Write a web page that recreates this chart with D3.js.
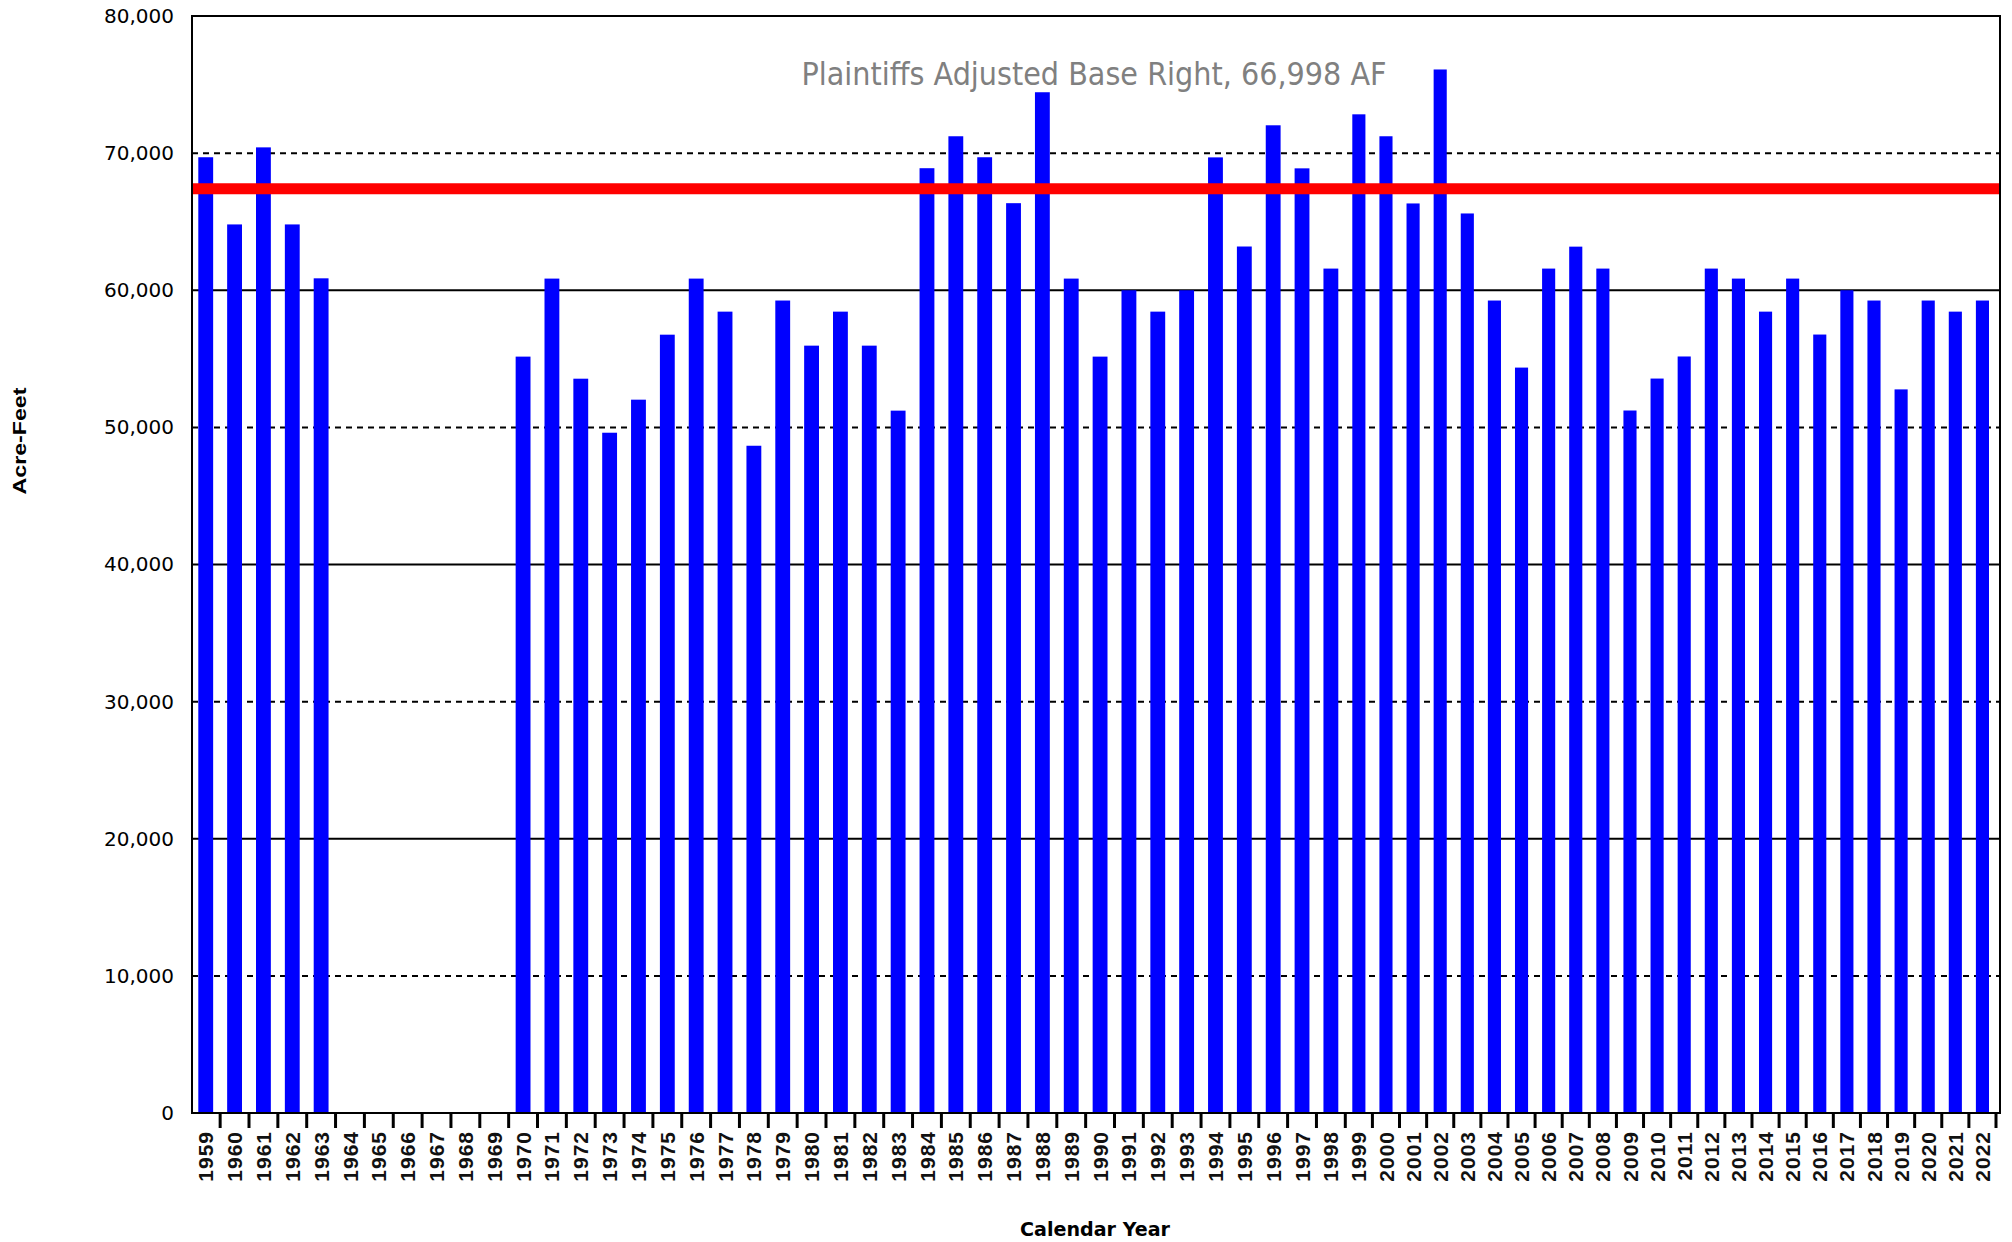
<!DOCTYPE html>
<html>
<head>
<meta charset="utf-8">
<script src="https://cdn.jsdelivr.net/npm/d3@7"></script>
<style>
  body { margin: 0; background: #fff; }
  svg { display: block; }
</style>
</head>
<body>
<svg></svg>
<script>
// annual diversions vs adjusted base right

var years = [1959, 1960, 1961, 1962, 1963, 1964, 1965, 1966, 1967, 1968, 1969,
             1970, 1971, 1972, 1973, 1974, 1975, 1976, 1977, 1978, 1979,
             1980, 1981, 1982, 1983, 1984, 1985, 1986, 1987, 1988, 1989,
             1990, 1991, 1992, 1993, 1994, 1995, 1996, 1997, 1998, 1999,
             2000, 2001, 2002, 2003, 2004, 2005, 2006, 2007, 2008, 2009,
             2010, 2011, 2012, 2013, 2014, 2015, 2016, 2017, 2018, 2019,
             2020, 2021, 2022];
var acreFeet = [69700, 64800, 70420, 64800, 60870, null, null, null, null, null, null,
                55160, 60850, 53550, 49610, 52020, 56760, 60850, 58440, 48660, 59250,
                55960, 58440, 55960, 51220, 68900, 71230, 69700, 66350, 74440, 60850,
                55160, 60000, 58440, 60000, 69690, 63190, 72030, 68890, 61580, 72830,
                71230, 66330, 76100, 65600, 59250, 54360, 61580, 63180, 61580, 51230,
                53560, 55170, 61580, 60850, 58440, 60850, 56770, 60000, 59250, 52770,
                59250, 58440, 59250];
var yTicks = [0, 10000, 20000, 30000, 40000, 50000, 60000, 70000, 80000];
var solidGrid = [20000, 40000, 60000];
var dashedGrid = [10000, 30000, 50000, 70000];
var baseRight = 67400;
var baseRightLabel = "Plaintiffs Adjusted Base Right, 66,998 AF";

var width = 2012;
var height = 1242;
var margin = {top: 16, right: 12, bottom: 129, left: 192};
var barGap = 14;

var data = years.map((y, i) => ({year: y, value: acreFeet[i]}));

// the year slots are a little narrower from 1999 on, as in the original
var xScale = d3.scaleLinear()
                 .domain([1959, 1999, 2023])
                 .range([191.3, 1345.3, 1996]);

var yScale = d3.scaleLinear()
                 .domain([0, 80000])
                 .range([height - margin.bottom, margin.top]);

var svg = d3.select('svg')
              .attr('width', width)
              .attr('height', height);

// grid
svg.selectAll('line.solid-grid')
    .data(solidGrid)
    .enter()
    .append('line')
      .attr('x1', margin.left)
      .attr('x2', width - margin.right)
      .attr('y1', d => yScale(d))
      .attr('y2', d => yScale(d))
      .attr('stroke', '#000')
      .attr('stroke-width', 2);

svg.selectAll('line.dashed-grid')
    .data(dashedGrid)
    .enter()
    .append('line')
      .attr('x1', margin.left)
      .attr('x2', width - margin.right)
      .attr('y1', d => yScale(d))
      .attr('y2', d => yScale(d))
      .attr('stroke', '#000')
      .attr('stroke-width', 2)
      .attr('stroke-dasharray', '6,5');

// bars
svg.selectAll('rect.bar')
    .data(data.filter(d => d.value !== null))
    .enter()
    .append('rect')
      .attr('class', 'bar')
      .attr('x', d => xScale(d.year) + barGap / 2)
      .attr('y', d => yScale(d.value))
      .attr('width', d => xScale(d.year + 1) - xScale(d.year) - barGap)
      .attr('height', d => yScale(0) - yScale(d.value))
      .attr('fill', '#0000ff');

// base right line
svg.append('line')
    .attr('x1', margin.left)
    .attr('x2', width - margin.right)
    .attr('y1', yScale(baseRight))
    .attr('y2', yScale(baseRight))
    .attr('stroke', '#ff0000')
    .attr('stroke-width', 11);

// frame
svg.append('rect')
    .attr('x', margin.left)
    .attr('y', margin.top)
    .attr('width', width - margin.right - margin.left)
    .attr('height', height - margin.bottom - margin.top)
    .attr('fill', 'none')
    .attr('stroke', '#000')
    .attr('stroke-width', 2);

// x axis: ticks between the years, labels rotated in the middle of each slot
var xAxis = svg.append('g')
    .attr('transform', 'translate(0,' + (height - margin.bottom) + ')')
    .classed('x-axis', true);

xAxis.selectAll('line')
    .data(years)
    .enter()
    .append('line')
      .attr('x1', d => xScale(d + 1))
      .attr('x2', d => xScale(d + 1))
      .attr('y1', 0)
      .attr('y2', 15)
      .attr('stroke', '#000')
      .attr('stroke-width', 3);

xAxis.selectAll('text')
    .data(years)
    .enter()
    .append('text')
      .attr('transform', d => 'translate(' + xScale(d + 0.5) + ',18) rotate(-90)')
      .attr('dy', '0.36em')
      .style('text-anchor', 'end')
      .style('font-family', '"Liberation Sans", Arial, sans-serif')
      .style('font-weight', 'bold')
      .style('font-size', '21px')
      .style('letter-spacing', '1px')
      .attr('fill', '#111')
      .text(d => d);

// y axis
var yAxis = svg.append('g')
    .attr('transform', 'translate(' + margin.left + ',0)')
    .classed('y-axis', true)
    .call(d3.axisLeft(yScale).tickValues(yTicks).tickFormat(d3.format(',')).tickSize(0).tickPadding(18));

yAxis.select('.domain').remove();
yAxis.selectAll('.tick text')
    .style('font-family', '"DejaVu Sans", Verdana, sans-serif')
    .style('font-size', '20px')
    .attr('fill', '#000');

// labels
svg.append('text')
    .attr('x', 1094)
    .attr('y', 85)
    .attr('textLength', 585)
    .attr('lengthAdjust', 'spacingAndGlyphs')
    .style('text-anchor', 'middle')
    .style('font-family', '"DejaVu Sans", sans-serif')
    .style('font-size', '32px')
    .attr('fill', '#808080')
    .text(baseRightLabel);

svg.append('text')
    .attr('x', 1095)
    .attr('y', 1236)
    .attr('textLength', 150)
    .attr('lengthAdjust', 'spacingAndGlyphs')
    .style('text-anchor', 'middle')
    .style('font-family', '"DejaVu Sans", sans-serif')
    .style('font-weight', 'bold')
    .style('font-size', '19px')
    .text('Calendar Year');

svg.append('text')
    .attr('transform', 'rotate(-90)')
    .attr('x', -441)
    .attr('y', 26)
    .attr('textLength', 107)
    .attr('lengthAdjust', 'spacingAndGlyphs')
    .style('text-anchor', 'middle')
    .style('font-family', '"Liberation Sans", Arial, sans-serif')
    .style('font-weight', 'bold')
    .style('font-size', '18px')
    .text('Acre-Feet');
</script>
</body>
</html>
